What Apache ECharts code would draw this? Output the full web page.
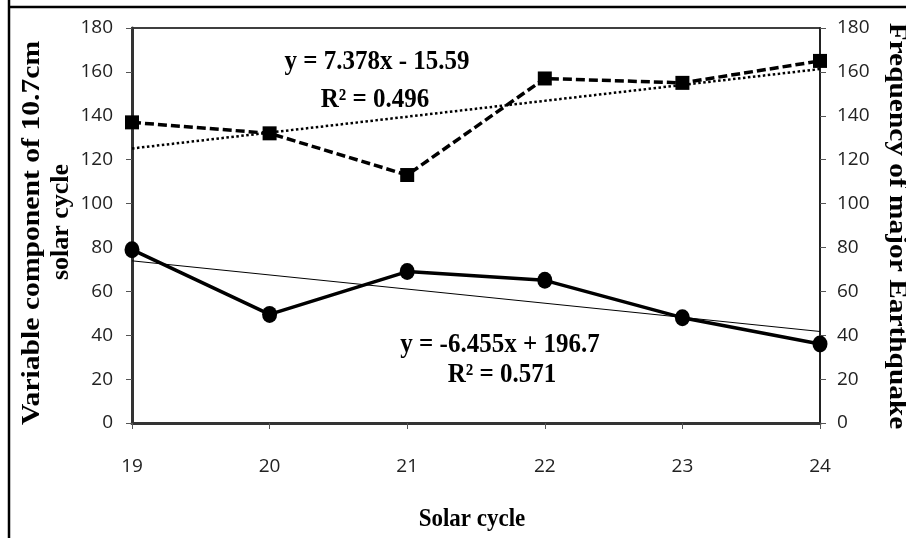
<!DOCTYPE html>
<html><head><meta charset="utf-8">
<script src="https://cdn.jsdelivr.net/npm/echarts@6/dist/echarts.min.js"></script>
<style>html,body{margin:0;padding:0;background:#fff}#c{width:906px;height:538px}</style>
</head><body><div id="c"></div>
<script>
var cycles = [19, 20, 21, 22, 23, 24];
var earthquakeFreq = [137, 132, 113, 157, 155, 165];
var solarVariable = [79, 49.5, 69, 65, 48, 36];
var eqTrendEnds = [125.1, 161.3];
var solarTrendEnds = [73.9, 41.7];
var yTicks = [0, 20, 40, 60, 80, 100, 120, 140, 160, 180];

function pairs(xs, ys){ return xs.map(function(x,i){ return [x, ys[i]]; }); }
var trendX = [cycles[0], cycles[cycles.length-1]];

var chart = echarts.init(document.getElementById('c'), null, {renderer:'canvas'});
var tickFont = {fontFamily:'Open Sans', fontSize:19, color:'#222'};
chart.setOption({
  animation:false,
  grid:{left:132, right:86, top:28, bottom:115, show:true, borderColor:'#000', borderWidth:1.5},
  xAxis:{type:'value', min:19, max:24, interval:1,
    axisLine:{show:true, lineStyle:{color:'#333', width:3}},
    axisTick:{show:true, length:6, lineStyle:{color:'#555', width:1}},
    axisLabel:Object.assign({margin:34}, tickFont),
    splitLine:{show:false}},
  yAxis:[
    {type:'value', min:0, max:180, interval:20, position:'left',
     axisLine:{show:true, lineStyle:{color:'#333', width:3}},
     axisTick:{show:true, length:6, lineStyle:{color:'#555', width:1}},
     axisLabel:Object.assign({margin:19}, tickFont), splitLine:{show:false}},
    {type:'value', min:0, max:180, interval:20, position:'right',
     axisLine:{show:true, lineStyle:{color:'#222', width:2}},
     axisTick:{show:true, length:6, lineStyle:{color:'#555', width:1}},
     axisLabel:Object.assign({margin:17}, tickFont), splitLine:{show:false}}
  ],
  series:[
    {type:'line', yAxisIndex:1, data:pairs(trendX, eqTrendEnds), symbol:'none',
     lineStyle:{color:'#000', width:2.5, type:[2.5,2.5]}, z:2},
    {type:'line', yAxisIndex:0, data:pairs(trendX, solarTrendEnds), symbol:'none',
     lineStyle:{color:'#000', width:1}, z:2},
    {type:'line', yAxisIndex:1, data:pairs(cycles, earthquakeFreq), symbol:'rect', symbolSize:14,
     itemStyle:{color:'#000'}, lineStyle:{color:'#000', width:3.5, type:[9,4]}, z:3},
    {type:'line', yAxisIndex:0, data:pairs(cycles, solarVariable), symbol:'circle', symbolSize:[15,17],
     itemStyle:{color:'#000'}, lineStyle:{color:'#000', width:3.5}, z:3}
  ],
  graphic:[
    {type:'line', shape:{x1:9, y1:0, x2:9, y2:538}, style:{stroke:'#000', lineWidth:2.5}},
    {type:'line', shape:{x1:8, y1:7, x2:906, y2:7}, style:{stroke:'#000', lineWidth:2.5}},
    {type:'text', x:377, y:62, scaleY:1.1, style:{text:'y = 7.378x - 15.59', font:'bold 25px "Liberation Serif"', fill:'#000', align:'center', verticalAlign:'middle'}},
    {type:'text', x:375, y:100, scaleY:1.1, style:{text:'R² = 0.496', font:'bold 25px "Liberation Serif"', fill:'#000', align:'center', verticalAlign:'middle'}},
    {type:'text', x:500, y:345, scaleY:1.1, style:{text:'y = -6.455x + 196.7', font:'bold 25px "Liberation Serif"', fill:'#000', align:'center', verticalAlign:'middle'}},
    {type:'text', x:502, y:375, scaleY:1.1, style:{text:'R² = 0.571', font:'bold 25px "Liberation Serif"', fill:'#000', align:'center', verticalAlign:'middle'}},
    {type:'text', x:32, y:233, rotation:Math.PI/2, scaleX:1.14, style:{text:'Variable component of 10.7cm', font:'bold 26px "Liberation Serif"', fill:'#000', align:'center', verticalAlign:'middle'}},
    {type:'text', x:61, y:222, rotation:Math.PI/2, style:{text:'solar cycle', font:'bold 26px "Liberation Serif"', fill:'#000', align:'center', verticalAlign:'middle'}},
    {type:'text', x:897, y:226, rotation:-Math.PI/2, scaleX:1.13, style:{text:'Frequency of major Earthquake', font:'bold 26px "Liberation Serif"', fill:'#000', align:'center', verticalAlign:'middle'}},
    {type:'text', x:472, y:519, scaleY:1.1, style:{text:'Solar cycle', font:'bold 23px "Liberation Serif"', fill:'#000', align:'center', verticalAlign:'middle'}}
  ]
});
</script></body></html>
